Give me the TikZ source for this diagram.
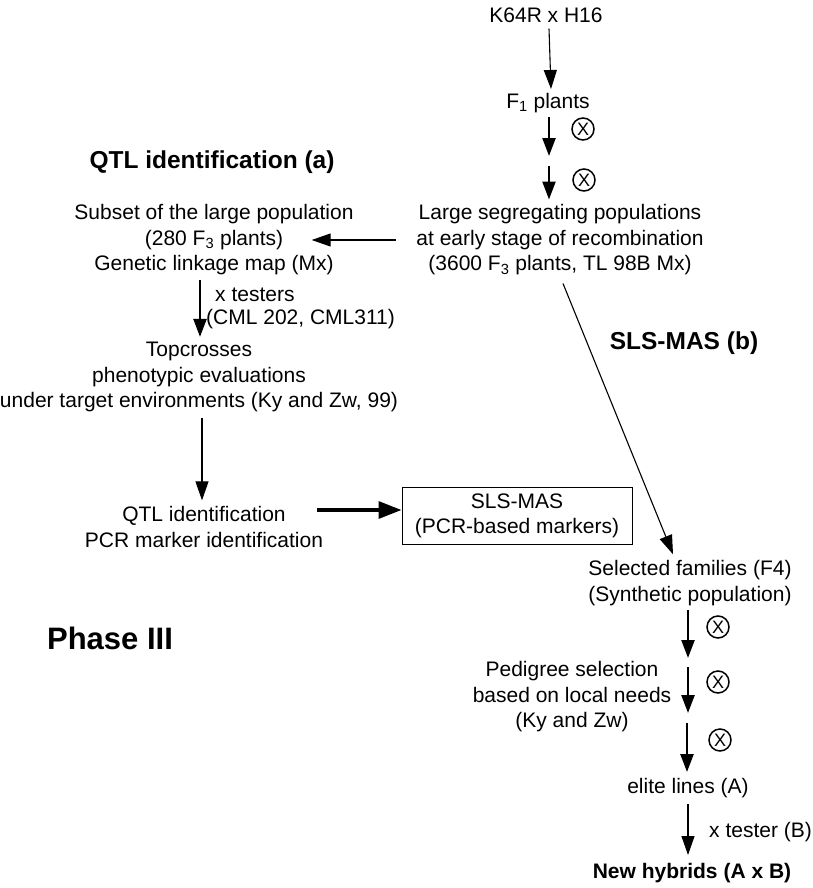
\documentclass[tikz,border=0pt]{standalone}
\usepackage{fontspec}
\setmainfont{Liberation Sans}
\usetikzlibrary{arrows.meta}
\begin{document}
\begin{tikzpicture}[x=1pt,y=-1pt,
  txt/.style={font=\fontsize{21}{25.5}\selectfont, align=center, inner sep=0pt},
  lbl/.style={font=\fontsize{21}{23}\selectfont, align=left, inner sep=0pt, anchor=west},
  hd/.style={font=\fontsize{24.5}{29}\selectfont\bfseries, inner sep=0pt},
  thinarr/.style={line width=1.1pt, -{Triangle[length=19pt,width=13pt]}},
  thickarr/.style={line width=2.4pt, -{Triangle[length=18pt,width=13pt]}},
  heavyarr/.style={line width=3.3pt, -{Triangle[length=23pt,width=17pt]}},
  selfing/.style={circle, draw, line width=1.5pt, inner sep=0pt, minimum size=22pt, font=\fontsize{18}{18}\selectfont}
]
\useasboundingbox (0,0) rectangle (812,888);

% nodes
\node[txt] (k64) at (546,15) {K64R x H16};
\node[txt] (f1) at (548,103) {F\textsubscript{1} plants};
\node[txt] (large) at (560,240) {Large segregating populations\\at early stage of recombination\\(3600 F\textsubscript{3} plants, TL 98B Mx)};
\node[hd] (hda) at (212,162) {QTL identification (a)};
\node[txt] (subset) at (214,240) {Subset of the large population\\(280 F\textsubscript{3} plants)\\Genetic linkage map (Mx)};
\node[lbl] (testers) at (206,308) {\hspace{9pt}x testers\\(CML 202, CML311)};
\node[txt] (top) at (199,377) {Topcrosses\\phenotypic evaluations\\under target environments (Ky and Zw, 99)};
\node[txt] (qtl) at (204,527) {QTL identification\\PCR marker identification};
\node[txt, draw, line width=1pt, minimum width=230pt, minimum height=57pt] (box) at (517,516) {SLS-MAS\\(PCR-based markers)};
\node[hd] (hdb) at (684,343) {SLS-MAS (b)};
\node[txt] (selfam) at (690,583) {Selected families (F4)\\(Synthetic population)};
\node[txt] (ped) at (572,697) {Pedigree selection\\based on local needs\\(Ky and Zw)};
\node[txt] (elite) at (688,788) {elite lines (A)};
\node[lbl] (tester) at (709,832) {x tester (B)};
\node[hd, font=\fontsize{21}{25}\selectfont\bfseries] (newhyb) at (692,873) {New hybrids (A x B)};
\node[hd, font=\fontsize{31}{36}\selectfont\bfseries] (phase) at (110,638) {Phase III};

% selfing symbols
\node[selfing] (s1) at (583,129) {X};
\node[selfing] (s2) at (584,180) {X};
\node[selfing] (s3) at (718,627) {X};
\node[selfing] (s4) at (718,682) {X};
\node[selfing] (s5) at (720,740) {X};

% free ends
\coordinate (c1) at (549,156);
\coordinate (c2) at (549,166);
\coordinate (c3) at (688,658);
\coordinate (c4) at (688,667);
\coordinate (c5) at (688,713);
\coordinate (c6) at (687,723);

% connectors
\draw[thinarr] ([xshift=3pt,yshift=-6pt]k64.south) -- ([xshift=3pt,yshift=4pt]f1.north);
\draw[thickarr] ([xshift=1pt,yshift=-4pt]f1.south) -- (c1);
\draw[thickarr] (c2) -- ([xshift=-11pt,yshift=5pt]large.north);
\draw[thinarr] ([xshift=-20pt]large.west) -- ([xshift=-42pt]subset.east);
\draw[thickarr, shorten <=5pt, shorten >=5pt] ([xshift=-14pt]subset.south) -- ([xshift=-14pt]subset.south |- top.north);
\draw[thinarr, shorten <=6pt, shorten >=6pt] ([xshift=3pt]top.south) -- ([xshift=3pt]top.south |- qtl.north);
\draw[heavyarr] ([xshift=-6pt,yshift=17pt]qtl.east) -- ([yshift=6pt]box.west);
\draw[thinarr] ([xshift=3pt,yshift=-8pt]large.south) -- ([xshift=-17pt,yshift=6pt]selfam.north);
\draw[thickarr] ([xshift=-2pt,yshift=-4pt]selfam.south) -- (c3);
\draw[thickarr] (c4) -- (c5);
\draw[thickarr, shorten >=6pt] (c6) -- (c6 |- elite.north);
\draw[thinarr, shorten <=6pt, shorten >=8pt] (elite.south) -- (elite.south |- newhyb.north);
\end{tikzpicture}
\end{document}
